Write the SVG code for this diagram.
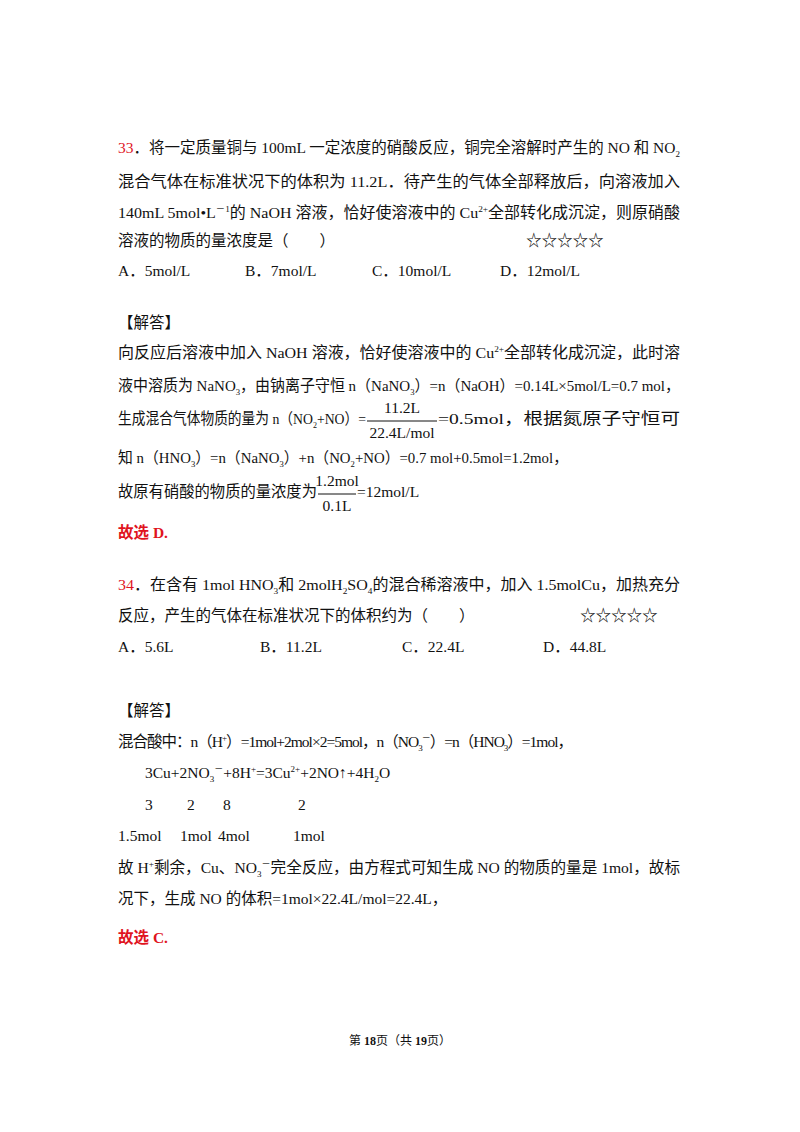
<svg xmlns="http://www.w3.org/2000/svg" width="800" height="1132" viewBox="0 0 800 1132">
<style>
text{font-family:"Liberation Serif","Noto Sans CJK SC",serif;font-size:15.5px;fill:#111}
.r{fill:#e0141e;font-weight:bold}
.s{font-size:9px}
</style>
<rect width="800" height="1132" fill="#fff"/>
<text x="118" y="153" textLength="562" lengthAdjust="spacingAndGlyphs"><tspan class="r" style="font-weight:normal">33</tspan>．将一定质量铜与 100mL 一定浓度的硝酸反应，铜完全溶解时产生的 NO 和 NO<tspan class="s" dy="4">2</tspan></text>
<text x="118" y="187" textLength="562" lengthAdjust="spacingAndGlyphs">混合气体在标准状况下的体积为 11.2L．待产生的气体全部释放后，向溶液加入</text>
<text x="118" y="218" textLength="562" lengthAdjust="spacingAndGlyphs">140mL 5mol•L<tspan class="s" dy="-6">－1</tspan><tspan dy="6">的 NaOH 溶液，恰好使溶液中的 Cu</tspan><tspan class="s" dy="-6">2+</tspan><tspan dy="6">全部转化成沉淀，则原硝酸</tspan></text>
<text x="118" y="246">溶液的物质的量浓度是（　　）</text>
<text x="526" y="246">☆☆☆☆☆</text>
<text x="118" y="276">A．5mol/L</text>
<text x="245" y="276">B．7mol/L</text>
<text x="372" y="276">C．10mol/L</text>
<text x="500" y="276">D．12mol/L</text>
<text x="118" y="328">【解答】</text>
<text x="118" y="358" textLength="562" lengthAdjust="spacingAndGlyphs">向反应后溶液中加入 NaOH 溶液，恰好使溶液中的 Cu<tspan class="s" dy="-6">2+</tspan><tspan dy="6">全部转化成沉淀，此时溶</tspan></text>
<text x="118" y="391" textLength="562" lengthAdjust="spacingAndGlyphs">液中溶质为 NaNO<tspan class="s" dy="4">3</tspan><tspan dy="-4">，由钠离子守恒 n（NaNO</tspan><tspan class="s" dy="4">3</tspan><tspan dy="-4">）=n（NaOH）=0.14L×5mol/L=0.7 mol，</tspan></text>
<text x="118" y="424" textLength="248" lengthAdjust="spacingAndGlyphs">生成混合气体物质的量为 n（NO<tspan class="s" dy="4">2</tspan><tspan dy="-4">+NO）=</tspan></text>
<line x1="367" y1="421" x2="437" y2="421" stroke="#111" stroke-width="1"/>
<text x="402" y="413" text-anchor="middle">11.2L</text>
<text x="402" y="438" text-anchor="middle">22.4L/mol</text>
<text x="438" y="424" textLength="242" lengthAdjust="spacingAndGlyphs">=0.5mol，根据氮原子守恒可</text>
<text x="118" y="463" textLength="450" lengthAdjust="spacingAndGlyphs">知 n（HNO<tspan class="s" dy="4">3</tspan><tspan dy="-4">）=n（NaNO</tspan><tspan class="s" dy="4">3</tspan><tspan dy="-4">）+n（NO</tspan><tspan class="s" dy="4">2</tspan><tspan dy="-4">+NO）=0.7 mol+0.5mol=1.2mol，</tspan></text>
<text x="118" y="497" textLength="199" lengthAdjust="spacingAndGlyphs">故原有硝酸的物质的量浓度为</text>
<line x1="318" y1="494" x2="356" y2="494" stroke="#111" stroke-width="1"/>
<text x="337" y="486" text-anchor="middle">1.2mol</text>
<text x="337" y="511" text-anchor="middle">0.1L</text>
<text x="357" y="497">=12mol/L</text>
<text x="118" y="538" class="r">故选 D.</text>
<text x="118" y="590" textLength="562" lengthAdjust="spacingAndGlyphs"><tspan class="r" style="font-weight:normal">34</tspan>．在含有 1mol HNO<tspan class="s" dy="4">3</tspan><tspan dy="-4">和 2molH</tspan><tspan class="s" dy="4">2</tspan><tspan dy="-4">SO</tspan><tspan class="s" dy="4">4</tspan><tspan dy="-4">的混合稀溶液中，加入 1.5molCu，加热充分</tspan></text>
<text x="118" y="621">反应，产生的气体在标准状况下的体积约为（　　）</text>
<text x="580" y="621">☆☆☆☆☆</text>
<text x="118" y="652">A．5.6L</text>
<text x="260" y="652">B．11.2L</text>
<text x="402" y="652">C．22.4L</text>
<text x="543" y="652">D．44.8L</text>
<text x="118" y="716">【解答】</text>
<text x="118" y="747" textLength="455" lengthAdjust="spacing">混合酸中：n（H<tspan class="s" dy="-6">+</tspan><tspan dy="6">）=1mol+2mol×2=5mol，n（NO</tspan><tspan class="s" dy="4">3</tspan><tspan class="s" dy="-10">－</tspan><tspan dy="6">）=n（HNO</tspan><tspan class="s" dy="4">3</tspan><tspan dy="-4">）=1mol，</tspan></text>
<text x="145" y="778">3Cu+2NO<tspan class="s" dy="4">3</tspan><tspan class="s" dy="-10">－</tspan><tspan dy="6">+8H</tspan><tspan class="s" dy="-6">+</tspan><tspan dy="6">=3Cu</tspan><tspan class="s" dy="-6">2+</tspan><tspan dy="6">+2NO↑+4H</tspan><tspan class="s" dy="4">2</tspan><tspan dy="-4">O</tspan></text>
<text x="145" y="810">3</text><text x="187" y="810">2</text><text x="223" y="810">8</text><text x="298" y="810">2</text>
<text x="118" y="841">1.5mol</text><text x="180" y="841">1mol</text><text x="218" y="841">4mol</text><text x="293" y="841">1mol</text>
<text x="118" y="873" textLength="562" lengthAdjust="spacingAndGlyphs">故 H<tspan class="s" dy="-6">+</tspan><tspan dy="6">剩余，Cu、NO</tspan><tspan class="s" dy="4">3</tspan><tspan class="s" dy="-10">－</tspan><tspan dy="6">完全反应，由方程式可知生成 NO 的物质的量是 1mol，故标</tspan></text>
<text x="118" y="904">况下，生成 NO 的体积=1mol×22.4L/mol=22.4L，</text>
<text x="118" y="943" class="r">故选 C.</text>
<text x="400" y="1045" text-anchor="middle" style="font-size:12px">第 <tspan font-weight="bold">18</tspan>页（共 <tspan font-weight="bold">19</tspan>页）</text>
</svg>
